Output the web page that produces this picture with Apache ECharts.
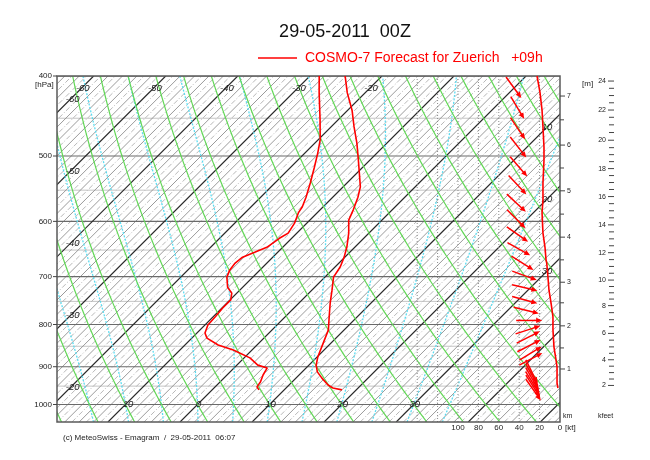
<!DOCTYPE html>
<html>
<head>
<meta charset="utf-8">
<script src="https://cdn.jsdelivr.net/npm/echarts@6/dist/echarts.min.js"></script>
<style>
html,body{margin:0;padding:0;background:#fff;}
#chart{width:650px;height:460px;}
</style>
</head>
<body>
<div id="chart"></div>
<script>
// ---------------- data ----------------
// temperature profile (hPa, degC)
const tempP = [400,419,440,461,482,501,524,545,561,570,581,598,620,645,663,681,701,727,753,783,812,842,876,896,913,929,947,955,960];
const tempT = [-25.1,-22.5,-19.4,-16.8,-14.2,-12.1,-9.7,-7.6,-6.5,-6.0,-5.4,-4.6,-2.8,-1.1,-0.1,0.7,1.2,2.8,4.3,6.1,7.8,8.9,10.1,11.0,12.1,13.6,15.4,16.5,18.0];
// dew point profile (hPa, degC)
const dewP = [400,419,452,478,496,516,539,561,576,586,603,620,629,645,654,663,674,687,701,721,733,747,764,783,801,819,831,847,859,878,896,903,921,939,952,960];
const dewT = [-28.7,-26.4,-22.5,-19.7,-18.2,-16.7,-15.1,-13.7,-12.9,-12.6,-11.7,-11.2,-11.7,-12.2,-13.2,-14.2,-14.4,-14.2,-13.6,-12.1,-10.7,-9.9,-9.9,-9.7,-9.6,-8.9,-7.9,-5.4,-2.6,0.8,2.9,4.6,5.0,5.6,5.8,6.5];
// red profile drawn on the wind-speed scale (hPa, kt)
const profP = [400,419,440,461,488,506,539,565,586,620,645,668,674,701,727,753,783,812,852,883,901,926,942,955];
const profKt = [22.5,19.6,17.6,16.7,15.7,15.7,16.7,16.7,17.6,16.7,14.7,13.7,13.0,11.8,10.8,8.8,6.9,6.9,5.9,3.9,2.9,2.9,2.9,2.0];
// wind arrows: level (hPa), position on kt scale, direction (deg, from)
const windP = [413,437,463,488,515,542,570,596,622,648,674,698,722,747,769,791,812,829,849,867,881,912,921,931,941,950,960];
const windKt = [45.4,41.7,41.4,40.9,40.5,41.7,42.8,42.9,41.7,40.4,36.8,34.8,34.6,34.6,33.1,30.2,31.4,31.1,30.4,28.9,28.6,27.9,27.6,27.2,26.9,26.5,26.1];
const windDir = [324,329,326,322,319,317,313,315,305,299,302,290,283,285,284,270,252,243,243,239,242,334,332,330,328,327,325];

// ---------------- diagram furniture ----------------
const pressureLabels = [400,500,600,700,800,900,1000];
const isobarLevels = [400,450,500,550,600,650,700,750,800,850,900,950,1000];
const isothermStart = -70, isothermEnd = 56, isothermStep = 1;   // degC
const dryAdiabatThetas = [-25,-20,-15,-10,-5,0,5,10,15,20,25,30,35,40,45,50,55,60,65,70,75,80,85,90,95]; // degC
const moistAdiabatThetaW = [-15,-10,-5,0,5,10,15,20,25,30,35]; // degC
const isoLabelTop = [-60,-50,-40,-30,-20];
const isoLabelLeft = [-60,-50,-40,-30,-20];
const isoLabelBottom = [-10,0,10,20,30];
const isoLabelRight = [10,20,30];
const ktLabels = [100,80,60,40,20,0];
const ktGridLines = [20,40,60,80,100,120,140];
const kmLevels = [1,1.5,2,2.5,3,3.5,4,4.5,5,5.5,6,6.5,7];
const kmPressure = [905.7,854,803,753,711,668,627,588,551,517,485,452,423];
const kmLabels = [1,2,3,4,5,6,7];
const kftLabels = [2,4,6,8,10,12,14,16,18,20,22,24];
const kftMinorStep = 0.5;

// ---------------- layout constants ----------------
const P_TOP = 400, P_BOT = 1050, X_MIN = -19.5, X_MAX = 50.3, KT_MAX = 493.1, K = 49.75;
const FONT = '"Liberation Sans", Arial, sans-serif';
const RED = '#ff0000';

function skewX(T, p) { return T + K * Math.log(1000 / p); }
function presList(step) { const a = []; for (let p = P_BOT; p > P_TOP; p -= step) a.push(p); a.push(P_TOP); return a; }

// isotherms: every 10 dark, even grey solid, odd grey dash-dot
const isoMinor = [], isoMajor = [], isoOdd = [];
for (let T = isothermStart; T <= isothermEnd; T += isothermStep) {
  const pts = [[skewX(T, P_BOT), P_BOT], [skewX(T, P_TOP), P_TOP]];
  if (T % 10 === 0) isoMajor.push(pts);
  else if (T % 2 === 0) isoMinor.push(pts);
  else isoOdd.push(pts);
}
// dry adiabats
const dryLines = dryAdiabatThetas.map(th => presList(10).map(p => [skewX((th + 273.15) * Math.pow(p / 1000, 0.2857) - 273.15, p), p]));
// moist adiabats
function esat(Tc) { return 6.112 * Math.exp(17.67 * Tc / (Tc + 243.5)); }
function lapse(p, Tk) {
  const es = esat(Tk - 273.15), rs = 0.622 * es / (p - es);
  const Rd = 287.04, cp = 1005.7, Lv = 2.501e6;
  return (Rd * Tk + Lv * rs) / (cp + Lv * Lv * rs * 0.622 / (Rd * Tk * Tk)) / p;
}
function moistLine(thw) {
  const up = [], down = [];
  let T = thw + 273.15, p = 1000, h = -2;
  up.push([p, T]);
  while (p > P_TOP) { const k1 = lapse(p, T); const k2 = lapse(p + h / 2, T + k1 * h / 2); T += k2 * h; p += h; up.push([p, T]); }
  T = thw + 273.15; p = 1000; h = 2;
  while (p < P_BOT) { const k1 = lapse(p, T); const k2 = lapse(p + h / 2, T + k1 * h / 2); T += k2 * h; p += h; down.push([p, T]); }
  return down.reverse().concat(up).map(([pp, TT]) => [skewX(TT - 273.15, pp), pp]);
}
const moistLines = moistAdiabatThetaW.map(moistLine);
// isobars
const isoLight = isobarLevels.filter(p => p % 100 !== 0).map(p => [[X_MIN, p], [X_MAX, p]]);
const isoDark = isobarLevels.filter(p => p % 100 === 0).map(p => [[X_MIN, p], [X_MAX, p]]);

function kmToP(km) {
  let i = 0;
  while (i < kmLevels.length - 2 && km > kmLevels[i + 1]) i++;
  const t = (km - kmLevels[i]) / (kmLevels[i + 1] - kmLevels[i]);
  const a = Math.log(kmPressure[i]), b = Math.log(kmPressure[i + 1]);
  return Math.exp(a + t * (b - a));
}

function linesSeries(lines, style, z) {
  return {
    type: 'custom', xAxisIndex: 0, yAxisIndex: 0, clip: true, silent: true, z: z || 2,
    data: [[0, 700]],
    renderItem: (params, api) => ({
      type: 'group',
      children: lines.map(l => ({
        type: 'polyline', shape: { points: l.map(pt => api.coord(pt)) },
        style: Object.assign({ fill: null }, style)
      }))
    })
  };
}
function txt(x, y, text, font, align, color) {
  return { type: 'text', x: x, y: y, style: { text: text, font: font, fill: color || '#222', align: align || 'center', textAlign: align || 'center', verticalAlign: 'middle', textVerticalAlign: 'middle' } };
}

const series = [];
series.push(linesSeries(isoLight, { stroke: '#c4c4c4', lineWidth: 1 }, 1));
series.push(linesSeries(isoOdd, { stroke: '#b0b0b0', lineWidth: 0.9, lineDash: [5, 2, 1, 2] }, 1));
series.push(linesSeries(isoMinor, { stroke: '#8e8e8e', lineWidth: 0.9 }, 1));
series.push(linesSeries(isoDark, { stroke: '#6a6a6a', lineWidth: 1.2 }, 1));
series.push(linesSeries(isoMajor, { stroke: '#2a2a2a', lineWidth: 1.2 }, 1));
series.push(linesSeries(moistLines, { stroke: '#5cdcf0', lineWidth: 1.3, lineDash: [2, 1.5] }, 1));
series.push(linesSeries(dryLines, { stroke: '#62d756', lineWidth: 1.2 }, 1));

// wind-speed vertical dotted grid
series.push({
  type: 'custom', xAxisIndex: 1, yAxisIndex: 0, clip: true, silent: true, z: 1,
  data: [[10, 700]],
  renderItem: (params, api) => ({
    type: 'group',
    children: ktGridLines.map(k => {
      const a = api.coord([k, P_TOP]), b = api.coord([k, P_BOT]);
      return { type: 'line', shape: { x1: a[0], y1: a[1], x2: b[0], y2: b[1] }, style: { stroke: '#8a8a8a', lineWidth: 1, lineDash: [1, 2] } };
    })
  })
});

// isotherm labels
series.push({
  type: 'custom', xAxisIndex: 0, yAxisIndex: 0, clip: false, silent: true, z: 3,
  data: [[0, 700]],
  renderItem: (params, api) => {
    const f = 'italic 9.5px ' + FONT, ch = [];
    const labelTopP = 413.5, labelLeftX = -17.6, labelRightX = 48.5;
    isoLabelTop.forEach(T => { const c = api.coord([skewX(T, labelTopP), labelTopP]); ch.push(txt(c[0] + 1, c[1], String(T), f)); });
    isoLabelLeft.forEach(T => { const p = 1000 / Math.exp((labelLeftX - T) / K); const c = api.coord([labelLeftX, p]); ch.push(txt(c[0] + 2, c[1], String(T), f)); });
    isoLabelBottom.forEach(T => { const c = api.coord([skewX(T, 1000), 1000]); ch.push(txt(c[0] + 1, c[1], String(T), f)); });
    isoLabelRight.forEach(T => { const p = 1000 / Math.exp((labelRightX - T) / K); const c = api.coord([labelRightX, p]); ch.push(txt(c[0], c[1], String(T), f)); });
    return { type: 'group', children: ch };
  }
});

// frame + pressure axis
series.push({
  type: 'custom', xAxisIndex: 0, yAxisIndex: 0, clip: false, silent: true, z: 4,
  data: [[0, 700]],
  renderItem: (params, api) => {
    const tl = api.coord([X_MIN, P_TOP]), br = api.coord([X_MAX, P_BOT]);
    const ch = [{ type: 'rect', shape: { x: tl[0], y: tl[1], width: br[0] - tl[0], height: br[1] - tl[1] }, style: { fill: null, stroke: '#5a5a5a', lineWidth: 1.5 } }];
    pressureLabels.forEach(p => {
      const c = api.coord([X_MIN, p]);
      ch.push({ type: 'line', shape: { x1: c[0] - 4, y1: c[1], x2: c[0], y2: c[1] }, style: { stroke: '#444', lineWidth: 1 } });
      ch.push(txt(c[0] - 5, c[1], String(p), '8px ' + FONT, 'right', '#222'));
    });
    const c4 = api.coord([X_MIN, P_TOP]);
    ch.push(txt(c4[0] - 22, c4[1] + 9, '[hPa]', '8px ' + FONT, 'left', '#222'));
    return { type: 'group', children: ch };
  }
});

// right-hand scales: kt labels, km, kfeet
series.push({
  type: 'custom', xAxisIndex: 1, yAxisIndex: 0, clip: false, silent: true, z: 4,
  data: [[10, 700]],
  renderItem: (params, api) => {
    const ch = [], f = '8px ' + FONT, fs = '7px ' + FONT;
    ktLabels.forEach(k => { const c = api.coord([k, P_BOT]); ch.push(txt(c[0], c[1] + 6, String(k), f)); });
    const c0 = api.coord([0, P_BOT]);
    ch.push(txt(c0[0] + 5, c0[1] + 6, '[kt]', f, 'left'));
    ch.push(txt(c0[0] + 3, c0[1] - 6, 'km', fs, 'left'));
    ch.push(txt(c0[0] + 38, c0[1] - 6, 'kfeet', fs, 'left'));
    const ct = api.coord([0, P_TOP]);
    ch.push(txt(ct[0] + 22, ct[1] + 8, '[m]', f, 'left'));
    kmLevels.forEach(km => {
      const c = api.coord([0, kmToP(km)]);
      const major = kmLabels.indexOf(km) >= 0;
      ch.push({ type: 'line', shape: { x1: c[0], y1: c[1], x2: c[0] + (major ? 5 : 4), y2: c[1] }, style: { stroke: '#444', lineWidth: 1 } });
      if (major) ch.push(txt(c[0] + 7, c[1], String(km), fs, 'left'));
    });
    for (let v = kftLabels[0]; v <= kftLabels[kftLabels.length - 1] + 1e-9; v += kftMinorStep) {
      const c = api.coord([0, kmToP(v * 0.3048)]);
      const major = kftLabels.indexOf(v) >= 0;
      ch.push({ type: 'line', shape: { x1: c[0] + (major ? 48 : 49), y1: c[1], x2: c[0] + 54, y2: c[1] }, style: { stroke: '#444', lineWidth: 1 } });
      if (major) ch.push(txt(c[0] + 46, c[1], String(v), fs, 'right'));
    }
    return { type: 'group', children: ch };
  }
});

// data: temperature and dew point
series.push({ type: 'line', xAxisIndex: 0, yAxisIndex: 0, symbol: 'none', silent: true, z: 5, clip: true,
  data: tempP.map((p, i) => [skewX(tempT[i], p), p]), lineStyle: { color: RED, width: 1.6 } });
series.push({ type: 'line', xAxisIndex: 0, yAxisIndex: 0, symbol: 'none', silent: true, z: 5, clip: true,
  data: dewP.map((p, i) => [skewX(dewT[i], p), p]), lineStyle: { color: RED, width: 1.6 } });
series.push({ type: 'line', xAxisIndex: 1, yAxisIndex: 0, symbol: 'none', silent: true, z: 5, clip: true,
  data: profP.map((p, i) => [profKt[i], p]), lineStyle: { color: RED, width: 1.6 } });

// wind arrows
series.push({
  type: 'custom', xAxisIndex: 1, yAxisIndex: 0, clip: false, silent: true, z: 6,
  data: windP.map((p, i) => [windKt[i], p, windDir[i]]),
  renderItem: (params, api) => {
    const c = api.coord([api.value(0), api.value(1)]);
    const b = (api.value(2) + 180) * Math.PI / 180;
    const ux = Math.sin(b), uy = -Math.cos(b), L = 13;
    const tail = [c[0] - ux * L, c[1] - uy * L], head = [c[0] + ux * L, c[1] + uy * L];
    const hl = 6, hw = 2.6;
    const base = [head[0] - ux * hl, head[1] - uy * hl];
    const left = [base[0] - uy * hw, base[1] + ux * hw], right = [base[0] + uy * hw, base[1] - ux * hw];
    return { type: 'group', children: [
      { type: 'line', shape: { x1: tail[0], y1: tail[1], x2: base[0] + ux, y2: base[1] + uy }, style: { stroke: RED, lineWidth: 1.5 } },
      { type: 'polygon', shape: { points: [head, left, right] }, style: { fill: RED } }
    ] };
  }
});

const option = {
  animation: false,
  backgroundColor: '#ffffff',
  grid: { left: 57, right: 90, top: 76, bottom: 38, containLabel: false, outerBoundsMode: 'none' },
  xAxis: [
    { type: 'value', min: X_MIN, max: X_MAX, show: false, gridIndex: 0 },
    { type: 'value', min: 0, max: KT_MAX, inverse: true, show: false, gridIndex: 0 }
  ],
  yAxis: [{ type: 'log', logBase: 10, min: P_TOP, max: P_BOT, inverse: true, show: false }],
  graphic: [
    { type: 'text', x: 345, y: 32, style: { text: '29-05-2011  00Z', font: '18px ' + FONT, fill: '#111', align: 'center', textAlign: 'center', verticalAlign: 'middle', textVerticalAlign: 'middle' } },
    { type: 'line', shape: { x1: 258, y1: 58, x2: 297, y2: 58 }, style: { stroke: RED, lineWidth: 1.5 } },
    { type: 'text', x: 305, y: 58, style: { text: 'COSMO-7 Forecast for Zuerich   +09h', font: '14px ' + FONT, fill: RED, align: 'left', textAlign: 'left', verticalAlign: 'middle', textVerticalAlign: 'middle' } },
    { type: 'text', x: 63, y: 438, style: { text: '(c) MeteoSwiss - Emagram  /  29-05-2011  06:07', font: '8px ' + FONT, fill: '#222', align: 'left', textAlign: 'left', verticalAlign: 'middle', textVerticalAlign: 'middle' } }
  ],
  series: series
};
const chart = echarts.init(document.getElementById('chart'), null, { renderer: 'canvas' });
chart.setOption(option);
</script>
</body>
</html>
